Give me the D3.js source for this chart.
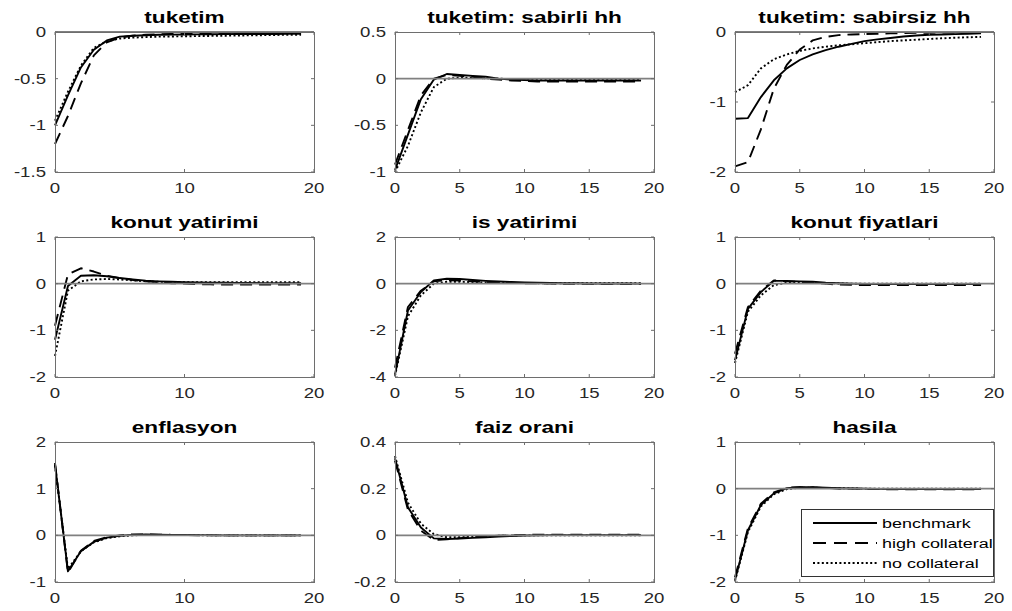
<!DOCTYPE html>
<html>
<head>
<meta charset="utf-8">
<script src="https://cdn.jsdelivr.net/npm/d3@7"></script>
<style>
  html, body { margin: 0; padding: 0; background: #fff; }
  svg { display: block; }
</style>
</head>
<body>
<svg id="chart" width="1012" height="611"></svg>
<script>
// ---------------- DATA ----------------
const periods = d3.range(0, 20);
const seriesNames = ["benchmark", "high collateral", "no collateral"];
const titles = ["tuketim", "tuketim: sabirli hh", "tuketim: sabirsiz hh",
                "konut yatirimi", "is yatirimi", "konut fiyatlari",
                "enflasyon", "faiz orani", "hasila"];
const yDomains = [[-1.5, 0], [-1, 0.5], [-2, 0],
                  [-2, 1], [-4, 2], [-2, 1],
                  [-1, 2], [-0.2, 0.4], [-2, 1]];
const yTicks = [[-1.5, -1, -0.5, 0], [-1, -0.5, 0, 0.5], [-2, -1, 0],
                [-2, -1, 0, 1], [-4, -2, 0, 2], [-2, -1, 0, 1],
                [-1, 0, 1, 2], [-0.2, 0, 0.2, 0.4], [-2, -1, 0, 1]];
const xTicksWide = [0, 10, 20];
const xTicksFine = [0, 5, 10, 15, 20];

// 1 tuketim
const tuketim_bench = [-1.0, -0.68, -0.38, -0.19, -0.09, -0.05, -0.04, -0.035, -0.03, -0.028, -0.026, -0.025, -0.024, -0.023, -0.022, -0.022, -0.021, -0.021, -0.02, -0.02];
const tuketim_high  = [-1.2, -0.9, -0.55, -0.25, -0.11, -0.06, -0.04, -0.03, -0.025, -0.02, -0.018, -0.016, -0.015, -0.014, -0.013, -0.013, -0.012, -0.012, -0.012, -0.012];
const tuketim_none  = [-0.95, -0.64, -0.36, -0.17, -0.1, -0.07, -0.06, -0.055, -0.05, -0.048, -0.046, -0.044, -0.042, -0.04, -0.038, -0.036, -0.034, -0.032, -0.03, -0.03];
// 2 tuketim: sabirli hh
const sabirli_bench = [-0.98, -0.6, -0.22, -0.01, 0.05, 0.04, 0.03, 0.02, 0.0, -0.01, -0.015, -0.02, -0.02, -0.02, -0.02, -0.02, -0.02, -0.02, -0.02, -0.02];
const sabirli_high  = [-0.92, -0.55, -0.18, 0.0, 0.04, 0.03, 0.02, 0.0, -0.01, -0.02, -0.025, -0.03, -0.03, -0.03, -0.03, -0.03, -0.03, -0.03, -0.03, -0.03];
const sabirli_none  = [-1.0, -0.72, -0.36, -0.09, 0.0, 0.01, 0.01, 0.005, 0.0, -0.005, -0.01, -0.01, -0.01, -0.01, -0.01, -0.01, -0.01, -0.01, -0.01, -0.01];
// 3 tuketim: sabirsiz hh
const sabirsiz_bench = [-1.24, -1.23, -0.93, -0.69, -0.52, -0.40, -0.32, -0.26, -0.21, -0.17, -0.13, -0.105, -0.085, -0.065, -0.05, -0.04, -0.035, -0.03, -0.025, -0.02];
const sabirsiz_high  = [-1.92, -1.86, -1.39, -0.81, -0.47, -0.25, -0.12, -0.07, -0.045, -0.035, -0.03, -0.025, -0.02, -0.015, -0.012, -0.01, -0.008, -0.006, -0.005, -0.004];
const sabirsiz_none  = [-0.86, -0.76, -0.52, -0.39, -0.32, -0.27, -0.235, -0.21, -0.19, -0.175, -0.16, -0.145, -0.13, -0.12, -0.11, -0.1, -0.09, -0.082, -0.075, -0.07];
// 4 konut yatirimi
const konutyat_bench = [-1.2, -0.05, 0.17, 0.18, 0.16, 0.12, 0.09, 0.065, 0.05, 0.04, 0.03, 0.025, 0.02, 0.02, 0.015, 0.015, 0.01, 0.01, 0.01, 0.01];
const konutyat_high  = [-0.9, 0.2, 0.33, 0.26, 0.17, 0.12, 0.08, 0.05, 0.03, 0.01, 0.0, -0.01, -0.015, -0.02, -0.02, -0.02, -0.02, -0.02, -0.02, -0.02];
const konutyat_none  = [-1.55, -0.15, 0.05, 0.09, 0.1, 0.09, 0.07, 0.05, 0.04, 0.035, 0.03, 0.03, 0.03, 0.03, 0.03, 0.03, 0.03, 0.03, 0.03, 0.03];
// 5 is yatirimi
const isyat_bench = [-3.9, -1.15, -0.36, 0.14, 0.21, 0.2, 0.16, 0.12, 0.09, 0.07, 0.05, 0.04, 0.03, 0.02, 0.02, 0.01, 0.01, 0.01, 0.01, 0.0];
const isyat_high  = [-3.6, -1.0, -0.3, 0.1, 0.15, 0.13, 0.1, 0.07, 0.05, 0.03, 0.02, 0.01, 0.0, -0.01, -0.01, -0.01, -0.02, -0.02, -0.02, -0.02];
const isyat_none  = [-3.95, -1.4, -0.5, 0.0, 0.08, 0.08, 0.06, 0.05, 0.04, 0.03, 0.03, 0.02, 0.02, 0.02, 0.02, 0.02, 0.02, 0.02, 0.02, 0.02];
// 6 konut fiyatlari
const fiyat_bench = [-1.64, -0.54, -0.18, 0.06, 0.06, 0.05, 0.04, 0.02, 0.01, 0.0, -0.005, -0.01, -0.01, -0.01, -0.01, -0.01, -0.01, -0.01, -0.01, -0.01];
const fiyat_high  = [-1.5, -0.5, -0.15, 0.07, 0.05, 0.04, 0.02, 0.0, -0.02, -0.025, -0.03, -0.03, -0.03, -0.03, -0.03, -0.03, -0.03, -0.03, -0.03, -0.03];
const fiyat_none  = [-1.7, -0.6, -0.25, -0.03, 0.02, 0.02, 0.015, 0.01, 0.005, 0, 0, 0, 0, 0, 0, 0, 0, 0, 0, 0];
// 7 enflasyon
const enf_bench = [1.52, -0.77, -0.34, -0.14, -0.05, -0.01, 0.01, 0.02, 0.015, 0.01, 0.01, 0.005, 0.005, 0, 0, 0, 0, 0, 0, 0];
const enf_high  = [1.55, -0.8, -0.33, -0.12, -0.04, 0.0, 0.02, 0.02, 0.015, 0.01, 0.005, 0, 0, 0, 0, 0, 0, 0, 0, 0];
const enf_none  = [1.5, -0.72, -0.34, -0.15, -0.06, -0.02, 0.0, 0.01, 0.01, 0.01, 0.005, 0.005, 0, 0, 0, 0, 0, 0, 0, 0];
// 8 faiz orani
const faiz_bench = [0.33, 0.12, 0.034, -0.013, -0.016, -0.014, -0.011, -0.008, -0.005, -0.003, -0.001, 0, 0.001, 0.001, 0.001, 0.001, 0.001, 0.001, 0.001, 0.001];
const faiz_high  = [0.32, 0.11, 0.02, -0.02, -0.017, -0.012, -0.008, -0.005, -0.002, 0, 0.002, 0.003, 0.003, 0.003, 0.003, 0.003, 0.003, 0.003, 0.003, 0.003];
const faiz_none  = [0.34, 0.14, 0.05, 0.005, -0.008, -0.008, -0.006, -0.004, -0.002, -0.001, 0, 0, 0, 0, 0, 0, 0, 0, 0, 0];
// 9 hasila
const hasila_bench = [-1.96, -0.89, -0.35, -0.1, 0.01, 0.03, 0.03, 0.02, 0.01, 0.005, 0, -0.005, -0.01, -0.01, -0.01, -0.01, -0.01, -0.01, -0.01, -0.01];
const hasila_high  = [-1.9, -0.85, -0.32, -0.08, 0.02, 0.03, 0.025, 0.015, 0.005, 0, -0.005, -0.01, -0.015, -0.015, -0.015, -0.015, -0.015, -0.015, -0.015, -0.015];
const hasila_none  = [-1.98, -0.93, -0.38, -0.12, -0.01, 0.02, 0.02, 0.015, 0.01, 0.005, 0, 0, 0, 0, 0, 0, 0, 0, 0, 0];

const panelSeries = [
  [tuketim_bench, tuketim_high, tuketim_none],
  [sabirli_bench, sabirli_high, sabirli_none],
  [sabirsiz_bench, sabirsiz_high, sabirsiz_none],
  [konutyat_bench, konutyat_high, konutyat_none],
  [isyat_bench, isyat_high, isyat_none],
  [fiyat_bench, fiyat_high, fiyat_none],
  [enf_bench, enf_high, enf_none],
  [faiz_bench, faiz_high, faiz_none],
  [hasila_bench, hasila_high, hasila_none]
];

// ---------------- LAYOUT / STYLE ----------------
const colLeft = [55, 395, 735];
const rowTop = [32, 237, 442];
const pw = 259, ph = 140;
const SX = 1.33; // horizontal text stretch seen in the reference
const dashStyles = [null, "12,7", "2,2.4"];
const font = "'Liberation Sans', Arial, Helvetica, sans-serif";

const svg = d3.select("#chart");
svg.append("rect").attr("width", 1012).attr("height", 611).attr("fill", "#fff");

function stretchedText(g, x, y, txt, size, anchor, weight, fill) {
  return g.append("text")
    .attr("transform", `translate(${x},${y}) scale(${SX},1)`)
    .attr("text-anchor", anchor)
    .attr("font-family", font)
    .attr("font-size", size)
    .attr("font-weight", weight || "normal")
    .attr("fill", fill || "#262626")
    .text(txt);
}

titles.forEach((title, i) => {
  const r = Math.floor(i / 3), c = i % 3;
  const left = colLeft[c], top = rowTop[r];
  const x = d3.scaleLinear().domain([0, 20]).range([left, left + pw]);
  const y = d3.scaleLinear().domain(yDomains[i]).range([top + ph, top]);
  const g = svg.append("g");
  const xt = (c === 0) ? xTicksWide : xTicksFine;

  // data lines
  const line = d3.line().x((d, k) => x(periods[k])).y(d => y(d));
  panelSeries[i].forEach((vals, s) => {
    const p = g.append("path").datum(vals)
      .attr("d", line)
      .attr("fill", "none")
      .attr("stroke", "#000")
      .attr("stroke-width", 1.9)
      .attr("stroke-linejoin", "round");
    if (dashStyles[s]) p.attr("stroke-dasharray", dashStyles[s]);
  });

  // zero line
  g.append("line")
    .attr("x1", x(0)).attr("x2", x(20))
    .attr("y1", y(0)).attr("y2", y(0))
    .attr("stroke", "#808080").attr("stroke-width", 1.8);

  // box
  g.append("rect")
    .attr("x", left + 0.5).attr("y", top + 0.5)
    .attr("width", pw).attr("height", ph)
    .attr("fill", "none").attr("stroke", "#6e6e6e").attr("stroke-width", 1);

  // ticks (inward on all sides)
  const tl = 3;
  xt.forEach(t => {
    g.append("line").attr("x1", x(t)).attr("x2", x(t)).attr("y1", top + ph).attr("y2", top + ph - tl)
      .attr("stroke", "#6e6e6e");
    g.append("line").attr("x1", x(t)).attr("x2", x(t)).attr("y1", top).attr("y2", top + tl)
      .attr("stroke", "#6e6e6e");
    stretchedText(g, x(t), top + ph + 21, String(t), 14, "middle");
  });
  yTicks[i].forEach(t => {
    g.append("line").attr("x1", left).attr("x2", left + tl).attr("y1", y(t)).attr("y2", y(t))
      .attr("stroke", "#6e6e6e");
    g.append("line").attr("x1", left + pw).attr("x2", left + pw - tl).attr("y1", y(t)).attr("y2", y(t))
      .attr("stroke", "#6e6e6e");
    stretchedText(g, left - 9, y(t) + 5, String(t), 14, "end");
  });

  // title
  stretchedText(g, left + pw / 2, top - 9, title, 17, "middle", "bold", "#000");
});

// ---------------- LEGEND ----------------
const lg = svg.append("g");
lg.append("rect").attr("x", 801.5).attr("y", 509.5).attr("width", 192).attr("height", 67)
  .attr("fill", "#fff").attr("stroke", "#333").attr("stroke-width", 1);
const legendRows = [523, 543, 563];
seriesNames.forEach((name, s) => {
  const ly = legendRows[s];
  const l = lg.append("line").attr("x1", 813).attr("x2", 877).attr("y1", ly).attr("y2", ly)
    .attr("stroke", "#000").attr("stroke-width", 1.9);
  if (dashStyles[s]) l.attr("stroke-dasharray", s === 1 ? "13,8" : dashStyles[s]);
  stretchedText(lg, 882, ly + 5, name, 13.5, "start", "normal", "#000");
});
</script>
</body>
</html>
